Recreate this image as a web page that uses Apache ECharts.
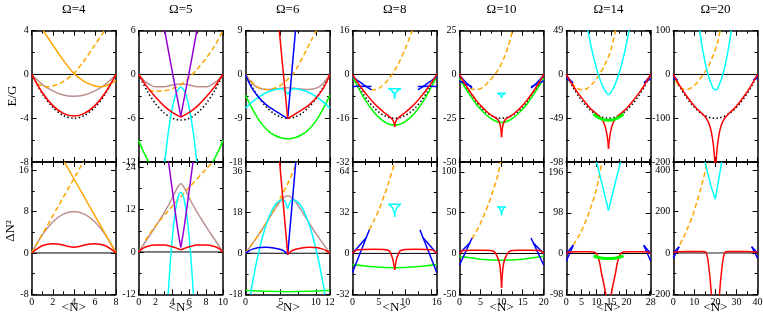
<!DOCTYPE html>
<html><head><meta charset="utf-8">
<script src="https://cdn.jsdelivr.net/npm/echarts@6/dist/echarts.min.js"></script>
<style>html,body{margin:0;padding:0;background:#fff}#c{width:763px;height:318px}</style>
</head><body><div id="c"></div><script>
// ---------- axes ----------
const omegas = [4,5,6,8,10,14,20];
const xMax = [8,10,12,16,20,28,40];
const xStep = [2,2,5,5,5,5,10];
const topMax = [4,6,9,16,25,49,100];
const topMin = [-8,-12,-18,-32,-50,-98,-200];
const botMax = [17.6,25.5,40,71.5,112,220,440];
const botMin = [-8,-12,-18,-32,-50,-98,-200];

// ---------- Omega = 4 ----------
const w4T_orange = [[1.1,4],[2,2.7],[3,1.3],[4,0.1],[5,-0.65],[6,-1.05],[6.5,-1.12],[7,-1.05],[7.5,-0.85],[8,-0.55]];
const w4T_dash = [[0.5,-0.85],[1,-1.05],[1.5,-1.12],[2,-1.05],[3,-0.65],[4,0.1],[5,1.3],[6,2.7],[6.9,4]];
const w4T_brown = [[0,0],[1,-0.9],[2,-1.5],[3,-1.88],[4,-2],[5,-1.88],[6,-1.5],[7,-0.9],[8,0]];
const w4T_red = [[0,0],[1,-1.65],[2,-2.85],[3,-3.55],[4,-3.8],[5,-3.55],[6,-2.85],[7,-1.65],[8,0]];
const w4T_dot = [[0,0],[1,-1.75],[2,-3],[3,-3.75],[4,-4],[5,-3.75],[6,-3],[7,-1.75],[8,0]];
const w4B_orange = [[3.1,17.6],[8,0]];
const w4B_dash = [[0,0],[4.9,17.6]];
const w4B_brown = [[0,0],[1,3.5],[2,6],[3,7.5],[4,8],[5,7.5],[6,6],[7,3.5],[8,0]];
const w4B_red = [[0,0],[0.5,0.8],[1,1.4],[1.5,1.7],[2,1.8],[2.5,1.75],[3,1.55],[3.5,1.25],[4,1.1],[4.5,1.25],[5,1.55],[5.5,1.75],[6,1.8],[6.5,1.7],[7,1.4],[7.5,0.8],[8,0]];

// ---------- Omega = 5 ----------
const w5T_violetL = [[3.1,6],[4.05,0],[5,-5.7]];
const w5T_violetR = [[5,-5.7],[5.95,0],[6.9,6]];
const w5T_dash = [[1.2,-2.1],[2,-2.3],[3,-2.25],[4,-1.95],[5,-1.4],[6,-0.45],[7,0.8],[8,2.2],[9,3.9],[10,6]];
const w5T_brown = [[0,0],[0.5,-0.65],[1,-1.15],[1.5,-1.5],[2,-1.7],[3,-1.7],[4,-1.45],[5,-1.3],[6,-1.45],[7,-1.7],[8,-1.7],[8.5,-1.5],[9,-1.15],[9.5,-0.65],[10,0]];
const w5T_redL = [[0,0],[1,-1.7],[2,-3.1],[3,-4.3],[4,-5.2],[5,-5.85]];
const w5T_redR = [[5,-5.85],[6,-5.2],[7,-4.3],[8,-3.1],[9,-1.7],[10,0]];
const w5T_dot = [[0,0],[1,-2.25],[2,-4],[3,-5.25],[4,-6],[5,-6.25],[6,-6],[7,-5.25],[8,-4],[9,-2.25],[10,0]];
const w5T_cyan = [[3.1,-12],[3.5,-8.1],[4,-4.6],[4.5,-2.4],[5,-1.75],[5.5,-2.4],[6,-4.6],[6.5,-8.1],[6.9,-12]];
const w5T_greenL = [[0,-9],[0.5,-10.4],[1.2,-12]];
const w5T_greenR = [[8.8,-12],[9.5,-10.4],[10,-9]];
const w5B_violetL = [[3.55,25.5],[4.15,14.8],[4.6,7],[5,1.3]];
const w5B_violetR = [[5,1.3],[5.4,7],[5.85,14.8],[6.45,25.5]];
const w5B_cyan = [[3.5,-12],[3.75,-3.2],[4,4.1],[4.25,9.7],[4.5,13.7],[4.75,16.1],[5,16.9],[5.25,16.1],[5.5,13.7],[5.75,9.7],[6,4.1],[6.25,-3.2],[6.5,-12]];
const w5B_brown = [[0,0],[1,3.6],[2,7.2],[3,11],[4,15.3],[4.5,17.8],[5,19.3],[5.5,17.8],[6,15.3],[7,11],[8,7.2],[9,3.6],[10,0]];
const w5B_dash = [[0.8,3.3],[2,7.4],[4,13],[6,18.3],[8,23.5],[8.8,25.5]];
const w5B_redL = [[0,0],[0.5,1],[1,1.55],[2,1.95],[3,1.95],[4,1.5],[4.6,1],[5,0.6]];
const w5B_redR = [[5,0.6],[5.4,1],[6,1.5],[7,1.95],[8,1.95],[9,1.55],[9.5,1],[10,0]];

// ---------- Omega = 6 ----------
const w6T_redSteep = [[4.8,9],[6,-9.1]];
const w6T_redR = [[6,-9.1],[7,-8.2],[8,-7.3],[9,-6.3],[10,-4.9],[11,-3],[11.5,-1.7],[12,0]];
const w6T_blueSteep = [[6,-9.1],[7.1,9]];
const w6T_blueL = [[0,0],[0.5,-1.7],[1,-3],[2,-4.9],[3,-6.3],[4,-7.3],[5,-8.2],[6,-9.1]];
const w6T_dot = [[0,0],[1,-2.75],[2,-5],[3,-6.75],[4,-8],[5,-8.75],[6,-9],[7,-8.75],[8,-8],[9,-6.75],[10,-5],[11,-2.75],[12,0]];
const w6T_green = [[0,-4.3],[1,-7.2],[2,-9.6],[3,-11.3],[4,-12.4],[5,-13],[6,-13.2],[7,-13],[8,-12.4],[9,-11.3],[10,-9.6],[11,-7.2],[12,-4.3]];
const w6T_cyanL = [[0,-6.9],[1,-5.6],[2,-4.5],[3,-3.7],[4,-3.2],[5,-2.95],[5.5,-3.1],[6,-4.1]];
const w6T_cyanR = [[6,-4.1],[6.5,-3.1],[7,-2.95],[8,-3.2],[9,-3.7],[10,-4.5],[11,-5.6],[12,-6.9]];
const w6T_brown = [[0,0],[0.5,-1],[1,-1.9],[1.5,-2.5],[2,-2.85],[3,-3.1],[4,-3],[5,-2.85],[6,-2.75],[7,-2.85],[8,-3],[9,-3.1],[10,-2.85],[10.5,-2.5],[11,-1.9],[11.5,-1],[12,0]];
const w6T_dash = [[0,0],[1,-1.7],[2,-2.8],[3,-3.1],[4,-2.9],[5,-2.2],[6,-1],[6.7,0],[7.5,1.8],[8.5,4.6],[9.5,7.4],[10.1,9]];
const w6B_redSteep = [[4.85,40],[6,-0.5]];
const w6B_redR = [[6,-0.5],[6.5,0.9],[7,1.6],[8,2.3],[9,2.6],[10,2.5],[11,1.8],[11.5,1.1],[12,0]];
const w6B_blueSteep = [[6,-0.5],[7.15,40]];
const w6B_blueL = [[0,0],[0.5,1.1],[1,1.8],[2,2.5],[3,2.6],[4,2.3],[5,1.6],[5.5,0.9],[6,-0.5]];
const w6B_cyanL = [[0.7,-18],[1,-12.8],[1.5,-4.8],[2,2.1],[2.5,8.1],[3,13.1],[3.5,17.1],[4,20.2],[4.5,22.2],[5,23.3],[5.3,23.5],[5.6,22.8],[6,19.5]];
const w6B_cyanR = [[6,19.5],[6.4,22.8],[6.7,23.5],[7,23.3],[7.5,22.2],[8,20.2],[8.5,17.1],[9,13.1],[9.5,8.1],[10,2.1],[10.5,-4.8],[11,-12.8],[11.3,-18]];
const w6B_brown = [[0,0],[1,4.3],[2,8.7],[3,13.5],[4,18.5],[5,23],[5.5,24.5],[6,25.2],[6.5,24.5],[7,23],[8,18.5],[9,13.5],[10,8.7],[11,4.3],[12,0]];
const w6B_dash = [[0,0],[1,4.3],[2,8.8],[3,13.7],[4,19],[5,24.5],[6,30.5],[7,37.5],[7.35,40]];
const w6B_green = [[0,-16.2],[3,-16.7],[6,-16.9],[9,-16.7],[12,-16.2]];

// ---------- Omega = 8 ----------
const w8T_dash = [[3.5,-5.4],[4,-5.6],[4.5,-5.5],[5,-5.1],[6,-3.6],[7,-1.3],[8,1.5],[9,5],[10,9.4],[11,14.2],[11.35,16]];
const w8T_blueA = [[0,-0.8],[1,-2.2],[2,-3.6],[3,-4.9],[3.6,-5.6]];
const w8T_blueB = [[0,-4.4],[1.5,-4.3],[3.6,-4.4]];
const w8T_blueC = [[12.4,-5.6],[13,-4.9],[14,-3.6],[15,-2.2],[16,-0.8]];
const w8T_blueD = [[12.4,-4.4],[14.5,-4.3],[16,-4.4]];
const w8T_cyanTop = [[6.8,-5.2],[9.2,-5.2]];
const w8T_cyanL = [[6.8,-5.2],[7.3,-5.7],[7.7,-6.4],[7.95,-7.5],[8,-8.8]];
const w8T_cyanR = [[8,-8.8],[8.05,-7.5],[8.3,-6.4],[8.7,-5.7],[9.2,-5.2]];
const w8T_green = [[0,-0.6],[1,-4.5],[2,-8],[3,-11],[4,-13.6],[5,-15.7],[6,-17.2],[7,-18.2],[8,-18.5],[9,-18.2],[10,-17.2],[11,-15.7],[12,-13.6],[13,-11],[14,-8],[15,-4.5],[16,-0.6]];
const w8T_redL = [[0,0],[1,-3],[2,-5.7],[3,-8.1],[4,-10.3],[5,-12.2],[6,-13.9],[7,-15.4],[7.6,-16.5],[7.9,-17.8],[8,-19.2]];
const w8T_redR = [[8,-19.2],[8.1,-17.8],[8.4,-16.5],[9,-15.4],[10,-13.9],[11,-12.2],[12,-10.3],[13,-8.1],[14,-5.7],[15,-3],[16,0]];
const w8T_dot = [[0,0],[1,-3.75],[2,-7],[3,-9.75],[4,-12],[5,-13.75],[6,-15],[7,-15.75],[8,-16],[9,-15.75],[10,-15],[11,-13.75],[12,-12],[13,-9.75],[14,-7],[15,-3.75],[16,0]];
const w8B_dash = [[3.2,18.5],[4,25],[5,34],[6,45],[7,57],[8.05,71.5]];
const w8B_blueA = [[0,-15],[3.2,18.5]];
const w8B_blueB = [[0,0],[2.6,12.3]];
const w8B_blueC = [[12.8,18.5],[16,-15]];
const w8B_blueD = [[13.4,12.3],[16,0]];
const w8B_cyanTop = [[6.8,38.5],[9.2,38.5]];
const w8B_cyanL = [[6.8,38.5],[7.3,37],[7.7,34.5],[7.95,31.5],[8,28.6]];
const w8B_cyanR = [[8,28.6],[8.05,31.5],[8.3,34.5],[8.7,37],[9.2,38.5]];
const w8B_redL = [[0,0],[0.5,2],[1,2.8],[2,3.1],[4,3.2],[6,3],[6.5,2.7],[7,1.8],[7.4,-1.5],[7.7,-5.5],[8,-13]];
const w8B_redR = [[8,-13],[8.3,-5.5],[8.6,-1.5],[9,1.8],[9.5,2.7],[10,3],[12,3.2],[14,3.1],[15,2.8],[15.5,2],[16,0]];
const w8B_green = [[0,-8.6],[4,-10.5],[8,-11.2],[12,-10.5],[16,-8.6]];

// ---------- Omega = 10 ----------
const w10T_dash = [[2.5,-8],[3.5,-8.6],[4.5,-8.5],[5.5,-7.4],[6.5,-5.3],[7.5,-2.7],[8.5,0.3],[9.5,4],[10.5,9],[11.5,15.5],[12.6,25]];
const w10T_blueA = [[0,-0.5],[1.5,-4.5],[3,-7.8]];
const w10T_blueB = [[0,-3.5],[1.5,-5.5],[3,-7]];
const w10T_blueC = [[17,-7.8],[18.5,-4.5],[20,-0.5]];
const w10T_blueD = [[17,-7],[18.5,-5.5],[20,-3.5]];
const w10T_cyanTop = [[9,-10.8],[11,-10.8]];
const w10T_cyanL = [[9,-10.8],[9.5,-11.3],[9.85,-12.2],[10,-13.4]];
const w10T_cyanR = [[10,-13.4],[10.15,-12.2],[10.5,-11.3],[11,-10.8]];
const w10T_green = [[0,-2.3],[2,-10],[4,-17],[6,-22.3],[8,-26],[10,-27.5],[12,-26],[14,-22.3],[16,-17],[18,-10],[20,-2.3]];
const w10T_redL = [[0,0],[1,-4.2],[2,-8],[3,-11.5],[4,-14.8],[5,-17.6],[6,-20.2],[7,-22.3],[8,-24],[9,-25.5],[9.5,-27.5],[9.8,-30.5],[10,-35.8]];
const w10T_redR = [[10,-35.8],[10.2,-30.5],[10.5,-27.5],[11,-25.5],[12,-24],[13,-22.3],[14,-20.2],[15,-17.6],[16,-14.8],[17,-11.5],[18,-8],[19,-4.2],[20,0]];
const w10T_dot = [[0,0],[1,-4.75],[2,-9],[3,-12.75],[4,-16],[5,-18.75],[6,-21],[7,-22.75],[8,-24],[9,-24.75],[10,-25],[11,-24.75],[12,-24],[13,-22.75],[14,-21],[15,-18.75],[16,-16],[17,-12.75],[18,-9],[19,-4.75],[20,0]];
const w10B_dash = [[3,18],[4,27],[5,37],[6,49],[7,62],[8,77],[9,94],[9.8,112]];
const w10B_blueA = [[0,-14.5],[3,19]];
const w10B_blueB = [[0,0],[2.5,13]];
const w10B_blueC = [[17,19],[20,-14.5]];
const w10B_blueD = [[17.5,13],[20,0]];
const w10B_cyanTop = [[9,57],[11,57]];
const w10B_cyanL = [[9,57],[9.5,55.5],[9.85,52],[10,46.8]];
const w10B_cyanR = [[10,46.8],[10.15,52],[10.5,55.5],[11,57]];
const w10B_redL = [[0,0],[0.5,2.5],[1,3.5],[3,4],[6,4],[7.5,3.5],[8.3,2],[8.8,-2],[9.3,-8],[9.6,-15],[9.85,-28],[10,-42]];
const w10B_redR = [[10,-42],[10.15,-28],[10.4,-15],[10.7,-8],[11.2,-2],[11.7,2],[12.5,3.5],[14,4],[17,4],[19,3.5],[19.5,2.5],[20,0]];
const w10B_green = [[0,-3.5],[5,-7],[10,-8.2],[15,-7],[20,-3.5]];

// ---------- Omega = 14 ----------
const w14T_cyanL = [[7.2,49],[8,35],[9,20],[10,7],[11,-4],[12,-12.5],[13,-19],[14,-23]];
const w14T_cyanR = [[14,-23],[15,-19],[16,-12.5],[17,-4],[18,7],[19,20],[20,35],[20.8,49]];
const w14T_dash = [[1.8,-9],[3,-14],[4,-16.3],[5.5,-17.2],[7,-15.5],[8.5,-11],[10,-5],[11,0],[12.5,9],[14,20],[15,30],[16.3,49]];
const w14T_blueA = [[0,-1],[2.2,-10]];
const w14T_blueB = [[0,-5],[2.2,-9]];
const w14T_blueC = [[25.8,-10],[28,-1]];
const w14T_blueD = [[25.8,-9],[28,-5]];
const w14T_redL = [[0,0],[2,-11.5],[4,-21.5],[6,-30],[8,-38],[10,-44],[11,-47],[12,-51],[12.8,-57],[13.4,-66],[13.8,-75],[14,-83]];
const w14T_redR = [[14,-83],[14.2,-75],[14.6,-66],[15.2,-57],[16,-51],[17,-47],[18,-44],[20,-38],[22,-30],[24,-21.5],[26,-11.5],[28,0]];
const w14T_green = [[9,-44],[10.5,-48],[12,-50.3],[14,-51.3],[16,-50.3],[17.5,-48],[19,-44]];
const w14T_dot = [[0,0],[2,-13],[4,-24],[6,-33],[8,-40],[10,-45],[12,-48],[14,-49],[16,-48],[18,-45],[20,-40],[22,-33],[24,-24],[26,-13],[28,0]];
const w14B_cyanL = [[10,220],[11,192],[12,163],[13,133],[14,103.5]];
const w14B_cyanR = [[14,103.5],[15,133],[16,163],[17,192],[18,220]];
const w14B_dash = [[2.3,20],[4,40],[6,70],[8,108],[10,155],[11.8,220]];
const w14B_blueA = [[0,-18],[2.3,20]];
const w14B_blueB = [[0,0],[2.3,20]];
const w14B_blueC = [[25.7,20],[28,-18]];
const w14B_blueD = [[25.7,20],[28,0]];
const w14B_redL = [[0,0],[1,3.5],[3,4.5],[7,4.5],[9,3.8],[10,0],[11,-20],[11.7,-48],[12.5,-75],[13.1,-98],[14,-140]];
const w14B_redR = [[14,-140],[14.9,-98],[15.5,-75],[16.3,-48],[17,-20],[18,0],[19,3.8],[21,4.5],[25,4.5],[27,3.5],[28,0]];
const w14B_green = [[9,-6],[11.5,-10.5],[14,-12],[16.5,-10.5],[19,-6]];

// ---------- Omega = 20 ----------
const w20T_cyanL = [[12.5,100],[13,84],[14,55],[15,30],[16,9],[17,-8],[18,-21],[19,-32],[20,-36]];
const w20T_cyanR = [[20,-36],[21,-32],[22,-21],[23,-8],[24,9],[25,30],[26,55],[27,84],[27.5,100]];
const w20T_dash = [[1,-14],[3,-27],[5,-34],[7,-34],[9,-29],[11,-20],[13,-8],[15,5],[17,22],[19,45],[21,72],[22.2,100]];
const w20T_blueA = [[0,-2],[2,-14]];
const w20T_blueB = [[0,-8],[2,-13]];
const w20T_blueC = [[38,-14],[40,-2]];
const w20T_blueD = [[38,-13],[40,-8]];
const w20T_redL = [[0,0],[2,-17],[4,-33],[6,-47],[8,-60],[10,-72],[12,-82],[14,-91],[15,-96],[16,-103],[17,-113],[18,-130],[19,-160],[19.7,-200],[20,-230]];
const w20T_redR = [[20,-230],[20.3,-200],[21,-160],[22,-130],[23,-113],[24,-103],[25,-96],[26,-91],[28,-82],[30,-72],[32,-60],[34,-47],[36,-33],[38,-17],[40,0]];
const w20T_dot = [[0,0],[2,-19],[4,-36],[6,-51],[8,-64],[10,-75],[12,-84],[14,-91],[16,-96],[18,-99],[20,-100],[22,-99],[24,-96],[26,-91],[28,-84],[30,-75],[32,-64],[34,-51],[36,-36],[38,-19],[40,0]];
const w20B_cyanL = [[15,440],[16.5,380],[18,320],[20,260]];
const w20B_cyanR = [[20,260],[21,322],[22,382],[23,440]];
const w20B_dash = [[1,8],[3,38],[5,78],[7,125],[9,175],[11,240],[13,310],[15,390],[16,440]];
const w20B_blueA = [[0,-25],[2.8,30]];
const w20B_blueB = [[0,0],[2.8,30]];
const w20B_blueC = [[37.2,30],[40,-25]];
const w20B_blueD = [[37.2,30],[40,0]];
const w20B_redL = [[0,0],[1,5],[5,7],[14,7],[15.3,5],[16.2,-20],[17,-80],[17.6,-140],[18.1,-200],[19,-270],[20,-300]];
const w20B_redR = [[20,-300],[21,-270],[21.9,-200],[22.4,-140],[23,-80],[23.8,-20],[24.7,5],[26,7],[35,7],[39,5],[40,0]];
const w20B_gray = [[16,0],[24,0]];

// [panel, row, style, data]
const curves = [
 [0,0,'dot',w4T_dot],[0,0,'brown',w4T_brown],[0,0,'orange',w4T_orange],[0,0,'dash',w4T_dash],[0,0,'red',w4T_red],
 [0,1,'brown',w4B_brown],[0,1,'orange',w4B_orange],[0,1,'dash',w4B_dash],[0,1,'red',w4B_red],
 [1,0,'dot',w5T_dot],[1,0,'brown',w5T_brown],[1,0,'dash',w5T_dash],[1,0,'green',w5T_greenL],[1,0,'green',w5T_greenR],[1,0,'cyan',w5T_cyan],[1,0,'red',w5T_redL],[1,0,'red',w5T_redR],[1,0,'violet',w5T_violetL],[1,0,'violet',w5T_violetR],
 [1,1,'brown',w5B_brown],[1,1,'dash',w5B_dash],[1,1,'cyan',w5B_cyan],[1,1,'red',w5B_redL],[1,1,'red',w5B_redR],[1,1,'violet',w5B_violetL],[1,1,'violet',w5B_violetR],
 [2,0,'dot',w6T_dot],[2,0,'brown',w6T_brown],[2,0,'dash',w6T_dash],[2,0,'green',w6T_green],[2,0,'cyan',w6T_cyanL],[2,0,'cyan',w6T_cyanR],[2,0,'blue',w6T_blueL],[2,0,'blue',w6T_blueSteep],[2,0,'red',w6T_redR],[2,0,'red',w6T_redSteep],
 [2,1,'brown',w6B_brown],[2,1,'dash',w6B_dash],[2,1,'green',w6B_green],[2,1,'cyan',w6B_cyanL],[2,1,'cyan',w6B_cyanR],[2,1,'blue',w6B_blueL],[2,1,'blue',w6B_blueSteep],[2,1,'red',w6B_redR],[2,1,'red',w6B_redSteep],
 [3,0,'dot',w8T_dot],[3,0,'dash',w8T_dash],[3,0,'green',w8T_green],[3,0,'cyan',w8T_cyanTop],[3,0,'cyan',w8T_cyanL],[3,0,'cyan',w8T_cyanR],[3,0,'blue',w8T_blueA],[3,0,'blue',w8T_blueB],[3,0,'blue',w8T_blueC],[3,0,'blue',w8T_blueD],[3,0,'red',w8T_redL],[3,0,'red',w8T_redR],
 [3,1,'dash',w8B_dash],[3,1,'green',w8B_green],[3,1,'cyan',w8B_cyanTop],[3,1,'cyan',w8B_cyanL],[3,1,'cyan',w8B_cyanR],[3,1,'blue',w8B_blueA],[3,1,'blue',w8B_blueB],[3,1,'blue',w8B_blueC],[3,1,'blue',w8B_blueD],[3,1,'red',w8B_redL],[3,1,'red',w8B_redR],
 [4,0,'dot',w10T_dot],[4,0,'dash',w10T_dash],[4,0,'green',w10T_green],[4,0,'cyan',w10T_cyanTop],[4,0,'cyan',w10T_cyanL],[4,0,'cyan',w10T_cyanR],[4,0,'blue',w10T_blueA],[4,0,'blue',w10T_blueB],[4,0,'blue',w10T_blueC],[4,0,'blue',w10T_blueD],[4,0,'red',w10T_redL],[4,0,'red',w10T_redR],
 [4,1,'dash',w10B_dash],[4,1,'green',w10B_green],[4,1,'cyan',w10B_cyanTop],[4,1,'cyan',w10B_cyanL],[4,1,'cyan',w10B_cyanR],[4,1,'blue',w10B_blueA],[4,1,'blue',w10B_blueB],[4,1,'blue',w10B_blueC],[4,1,'blue',w10B_blueD],[4,1,'red',w10B_redL],[4,1,'red',w10B_redR],
 [5,0,'dot',w14T_dot],[5,0,'dash',w14T_dash],[5,0,'cyan',w14T_cyanL],[5,0,'cyan',w14T_cyanR],[5,0,'blue',w14T_blueA],[5,0,'blue',w14T_blueB],[5,0,'blue',w14T_blueC],[5,0,'blue',w14T_blueD],[5,0,'red',w14T_redL],[5,0,'red',w14T_redR],[5,0,'greenThick',w14T_green],
 [5,1,'dash',w14B_dash],[5,1,'cyan',w14B_cyanL],[5,1,'cyan',w14B_cyanR],[5,1,'blue',w14B_blueA],[5,1,'blue',w14B_blueB],[5,1,'blue',w14B_blueC],[5,1,'blue',w14B_blueD],[5,1,'red',w14B_redL],[5,1,'red',w14B_redR],[5,1,'greenThick',w14B_green],
 [6,0,'dot',w20T_dot],[6,0,'dash',w20T_dash],[6,0,'cyan',w20T_cyanL],[6,0,'cyan',w20T_cyanR],[6,0,'blue',w20T_blueA],[6,0,'blue',w20T_blueB],[6,0,'blue',w20T_blueC],[6,0,'blue',w20T_blueD],[6,0,'red',w20T_redL],[6,0,'red',w20T_redR],
 [6,1,'gray',w20B_gray],[6,1,'dash',w20B_dash],[6,1,'cyan',w20B_cyanL],[6,1,'cyan',w20B_cyanR],[6,1,'blue',w20B_blueA],[6,1,'blue',w20B_blueB],[6,1,'blue',w20B_blueC],[6,1,'blue',w20B_blueD],[6,1,'red',w20B_redL],[6,1,'red',w20B_redR]
];

// ---------- styles / layout ----------
const STY = {
  zero:{color:'#000',width:1},
  dot:{color:'#000',width:1.6,type:[1.4,2.4]},
  dash:{color:'#ffa500',width:1.5,type:[5,3]},
  orange:{color:'#ffa500',width:1.5},
  brown:{color:'#bc8f8f',width:1.5},
  red:{color:'#ff0000',width:1.5},
  cyan:{color:'#00ffff',width:1.5},
  violet:{color:'#9400d3',width:1.5},
  green:{color:'#00ff00',width:1.5},
  greenThick:{color:'#00ff00',width:3},
  blue:{color:'#0000ff',width:1.5},
  gray:{color:'#9a9a9a',width:1.5}
};
const LEFT0 = 31.7, STEP = 106.93, W = 84.3;
const ROWS = [{top:30.7,h:131.3},{top:162,h:132.3}];
const FONT = 'Liberation Serif';

const grid = [], xAxis = [], yAxis = [], series = [];
function axisCommon(){
  return {
    type:'value', splitLine:{show:false}, minorSplitLine:{show:false},
    axisLine:{show:true,onZero:false,lineStyle:{color:'#000',width:1.5}},
    axisTick:{show:true,inside:true,length:5,lineStyle:{color:'#000',width:1}},
    minorTick:{show:true,splitNumber:2,length:3,lineStyle:{color:'#000',width:1}}
  };
}
for (let p=0;p<7;p++){
  for (let r=0;r<2;r++){
    const g = p*2+r;
    grid.push({left:LEFT0+p*STEP, top:ROWS[r].top, width:W, height:ROWS[r].h, outerBoundsMode:'none', containLabel:false});
    const ymin = r===0 ? topMin[p] : botMin[p];
    const ymax = r===0 ? topMax[p] : botMax[p];
    const yint = r===0 ? topMax[p] : -botMin[p];
    xAxis.push(Object.assign(axisCommon(),{gridIndex:g,position:'bottom',min:0,max:xMax[p],interval:xStep[p],
      axisLabel:{show:r===1,margin:3,color:'#000',fontFamily:FONT,fontSize:10,showMinLabel:true,showMaxLabel:true}}));
    xAxis.push(Object.assign(axisCommon(),{gridIndex:g,position:'top',min:0,max:xMax[p],interval:xStep[p],axisLabel:{show:false}}));
    yAxis.push(Object.assign(axisCommon(),{gridIndex:g,position:'left',min:ymin,max:ymax,interval:yint,
      axisLabel:{show:true,margin:3,color:'#000',fontFamily:FONT,fontSize:10,showMinLabel:true,showMaxLabel:r===0}}));
    yAxis.push(Object.assign(axisCommon(),{gridIndex:g,position:'right',min:ymin,max:ymax,interval:yint,axisLabel:{show:false}}));
    series.push({type:'line',xAxisIndex:2*g,yAxisIndex:2*g,data:[[0,0],[xMax[p],0]],symbol:'none',silent:true,lineStyle:STY.zero,z:1});
  }
}
curves.forEach(([p,r,s,d])=>{
  const g = p*2+r;
  series.push({type:'line',xAxisIndex:2*g,yAxisIndex:2*g,data:d,symbol:'none',showSymbol:false,silent:true,
    smooth:d.length>2?0.3:false,clip:true,lineStyle:STY[s],z:2});
});

const graphic = [];
for (let p=0;p<7;p++){
  const cx = LEFT0+p*STEP+W/2;
  graphic.push({type:'text',x:cx,y:10,style:{text:'Ω='+omegas[p],fontFamily:FONT,fontSize:13,fill:'#000',align:'center',verticalAlign:'middle'}});
  graphic.push({type:'text',x:cx,y:308,style:{text:'<N>',fontFamily:FONT,fontSize:13,fill:'#000',align:'center',verticalAlign:'middle'}});
}
graphic.push({type:'text',x:13,y:96,rotation:Math.PI/2,style:{text:'E/G',fontFamily:FONT,fontSize:13,fill:'#000',align:'center',verticalAlign:'middle'}});
graphic.push({type:'text',x:11,y:231,rotation:Math.PI/2,style:{text:'ΔN²',fontFamily:FONT,fontSize:13,fill:'#000',align:'center',verticalAlign:'middle'}});

const chart = echarts.init(document.getElementById('c'),null,{renderer:'canvas'});
chart.setOption({animation:false,backgroundColor:'#fff',grid,xAxis,yAxis,series,graphic});
</script></body></html>
